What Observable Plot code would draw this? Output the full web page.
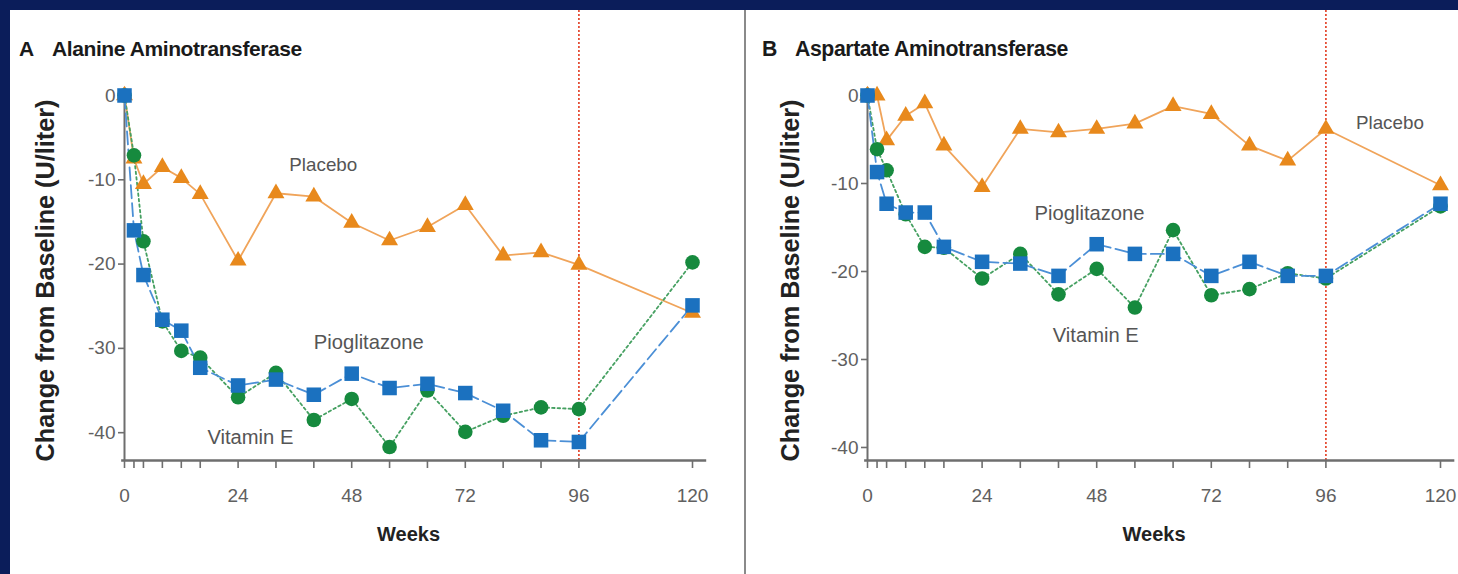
<!DOCTYPE html>
<html>
<head>
<meta charset="utf-8">
<script src="https://cdn.jsdelivr.net/npm/d3@7"></script>
<script src="https://cdn.jsdelivr.net/npm/@observablehq/plot@0.6"></script>
<style>
  html, body { margin: 0; padding: 0; background: #0b1d5a; }
  #wrap { position: relative; width: 1458px; height: 574px; background: #0b1d5a; overflow: hidden; }
  #inner { position: absolute; left: 10px; top: 10px; width: 1448px; height: 564px; background: #ffffff; }
  .panel { position: absolute; top: 0; height: 564px; }
  #divider { position: absolute; left: 734px; top: 0; width: 2px; height: 564px; background: #8a8a8a; }
  .title { position: absolute; top: 27px; white-space: nowrap; font-family: "Liberation Sans", "DejaVu Sans", sans-serif; font-weight: bold; font-size: 21px; color: #1a1a1a; letter-spacing: -0.4px; }
  .title .tx { position: absolute; top: 0; }
  svg { overflow: visible; }
</style>
</head>
<body>
<div id="wrap">
  <div id="inner">
    <div id="pA" class="panel" style="left:0; width:734px;"></div>
    <div id="divider"></div>
    <div id="pB" class="panel" style="left:736px; width:712px;"></div>
  </div>
</div>
<script>
// ---------- data ----------
const weeks = [0, 2, 4, 8, 12, 16, 24, 32, 40, 48, 56, 64, 72, 80, 88, 96, 120];
const xTickLabels = [0, 24, 48, 72, 96, 120];
const yTickValues = [0, -10, -20, -30, -40];
const seriesNames = ["Placebo", "Pioglitazone", "Vitamin E"];

// Panel A: Alanine Aminotransferase
const altPlacebo = [0, -7.5, -10.5, -8.5, -9.8, -11.7, -19.6, -11.6, -12.0, -15.1, -17.2, -15.6, -13.0, -19.0, -18.6, -20.1, -25.8];
const altPioglitazone = [0, -16.0, -21.3, -26.6, -27.9, -32.3, -34.4, -33.7, -35.5, -33.0, -34.7, -34.2, -35.3, -37.4, -40.9, -41.1, -24.9];
const altVitaminE = [0, -7.1, -17.3, -26.8, -30.3, -31.1, -35.8, -32.9, -38.5, -36.0, -41.7, -35.0, -39.9, -38.0, -37.0, -37.2, -19.8];

// Panel B: Aspartate Aminotransferase
const astPlacebo = [0, 0, -5.1, -2.3, -0.9, -5.7, -10.4, -3.8, -4.2, -3.8, -3.2, -1.2, -2.1, -5.7, -7.4, -3.8, -10.2];
const astPioglitazone = [0, -8.7, -12.3, -13.3, -13.3, -17.2, -18.9, -19.1, -20.5, -16.9, -18.0, -18.0, -20.5, -18.9, -20.5, -20.5, -12.3];
const astVitaminE = [0, -6.1, -8.5, -13.5, -17.2, -17.3, -20.8, -18.0, -22.6, -19.7, -24.1, -15.3, -22.7, -22.0, -20.2, -20.8, -12.6];

// label anchor points (week, value) for series annotations
const altLabelWeeks = [42, 51.6, 26.6];
const altLabelValues = [-8.3, -29.3, -40.6];
const astLabelWeeks = [109.4, 46.5, 47.8];
const astLabelValues = [-3.1, -13.4, -27.3];

const endOfTreatmentWeek = 96;

// ---------- styles ----------
const FONT = '"Liberation Sans", "DejaVu Sans", sans-serif';
const C = {
  placeboMarker: "#e8891c", placeboLine: "#f0a45a",
  pioMarker: "#1b71bf", pioLine: "#4b8fd6",
  vitMarker: "#168a3e", vitLine: "#45a061",
  axis: "#6e6e6e", tickText: "#606060", annot: "#555555", red: "#e4472d"
};

function panel({placebo, pio, vitE, yDomain, width, marginLeft, marginRight, lblW, lblV, yLabelDx, yLabelDy}) {
  const rows = (arr) => weeks.map((w, i) => ({week: w, value: arr[i]}));
  const P = rows(placebo), G = rows(pio), V = rows(vitE);
  const labels = seriesNames.map((n, i) => ({name: n, week: lblW[i], value: lblV[i]}));
  return Plot.plot({
    width, height: 564,
    marginTop: 0, marginBottom: 114, marginLeft, marginRight,
    x: {domain: [0, 120]},
    y: {domain: yDomain},
    style: {fontFamily: FONT, background: "transparent", overflow: "visible"},
    marks: [
      // end of treatment line
      Plot.ruleX([endOfTreatmentWeek], {stroke: C.red, strokeWidth: 1.7, strokeDasharray: "2,2"}),
      // axes
      Plot.ruleY([yDomain[0]], {x1: -0.6, x2: 123, stroke: C.axis, strokeWidth: 2.4}),
      Plot.ruleX([0], {y1: yDomain[0], y2: 0.9, stroke: C.axis, strokeWidth: 2}),
      Plot.axisX({ticks: weeks, tickSize: 8, tickPadding: 20, tickFormat: d => xTickLabels.includes(d) ? String(d) : "",
                  stroke: C.axis, strokeWidth: 1.6, fill: C.tickText, fontSize: 19, label: null}),
      Plot.axisY({ticks: yTickValues, tickSize: 6, tickPadding: 3, tickFormat: d => String(d),
                  stroke: C.axis, strokeWidth: 1.6, fill: C.tickText, fontSize: 19, label: null}),
      // axis titles
      Plot.text(["Weeks"], {frameAnchor: "bottom", dy: 80, fontSize: 20, fontWeight: "bold", fill: "#222"}),
      Plot.text(["Change from Baseline (U/liter)"], {frameAnchor: "left", textAnchor: "middle", rotate: -90,
                  dx: yLabelDx, dy: yLabelDy, fontSize: 22, fontWeight: "bold", fill: "#222"}),
      // lines
      Plot.line(P, {x: "week", y: "value", stroke: C.placeboLine, strokeWidth: 1.8}),
      Plot.line(V, {x: "week", y: "value", stroke: C.vitLine, strokeWidth: 1.8, strokeDasharray: "2.5,3"}),
      Plot.line(G, {x: "week", y: "value", stroke: C.pioLine, strokeWidth: 1.8, strokeDasharray: "13,5"}),
      // markers
      Plot.dot(P, {x: "week", y: "value", symbol: "triangle", r: 6.3, fill: C.placeboMarker}),
      Plot.dot(V, {x: "week", y: "value", symbol: "circle", r: 7.3, fill: C.vitMarker}),
      Plot.dot(G, {x: "week", y: "value", symbol: "square", r: 8.2, fill: C.pioMarker}),
      // annotations
      Plot.text(labels, {x: "week", y: "value", text: "name", fontSize: 18, fill: C.annot})
    ]
  });
}

const plotA = panel({
  placebo: altPlacebo, pio: altPioglitazone, vitE: altVitaminE,
  yDomain: [-43.3, 10.08], width: 734, marginLeft: 114, marginRight: 52,
  lblW: altLabelWeeks, lblV: altLabelValues, yLabelDx: -79, yLabelDy: 45
});
const plotB = panel({
  placebo: astPlacebo, pio: astPioglitazone, vitE: astVitaminE,
  yDomain: [-41.48, 9.66], width: 712, marginLeft: 121, marginRight: 18,
  lblW: astLabelWeeks, lblV: astLabelValues, yLabelDx: -77, yLabelDy: 45
});
document.getElementById("pA").appendChild(plotA);
document.getElementById("pB").appendChild(plotB);

// fit selected svg texts to the widths seen in the reference
const textWidths = {"Change from Baseline (U/liter)": 362, "Weeks": 63, "Placebo": 68, "Pioglitazone": 110, "Vitamin E": 86};
for (const svg of [plotA, plotB]) {
  svg.querySelectorAll("text").forEach(t => {
    const target = textWidths[t.textContent];
    if (!target) return;
    const len = t.getComputedTextLength();
    const fs = parseFloat(getComputedStyle(t).fontSize);
    if (len > 0 && fs > 0) t.setAttribute("font-size", (fs * target / len).toFixed(2));
  });
}

// panel titles
function addTitle(host, letter, text, letterX, textX, targetW) {
  const t = document.createElement("div");
  t.className = "title";
  t.style.left = "0px";
  const a = document.createElement("span"); a.className = "tx"; a.textContent = letter; a.style.left = letterX + "px";
  const b = document.createElement("span"); b.className = "tx"; b.textContent = text; b.style.left = textX + "px";
  t.appendChild(a); t.appendChild(b);
  host.appendChild(t);
  const w = b.getBoundingClientRect().width;
  if (w > 0) {
    const fs = 21 * targetW / w;
    t.style.fontSize = Math.max(15, Math.min(26, fs)) + "px";
  }
}
addTitle(document.getElementById("pA"), "A", "Alanine Aminotransferase", 9, 42, 250);
addTitle(document.getElementById("pB"), "B", "Aspartate Aminotransferase", 16, 49, 273);
</script>
</body>
</html>
